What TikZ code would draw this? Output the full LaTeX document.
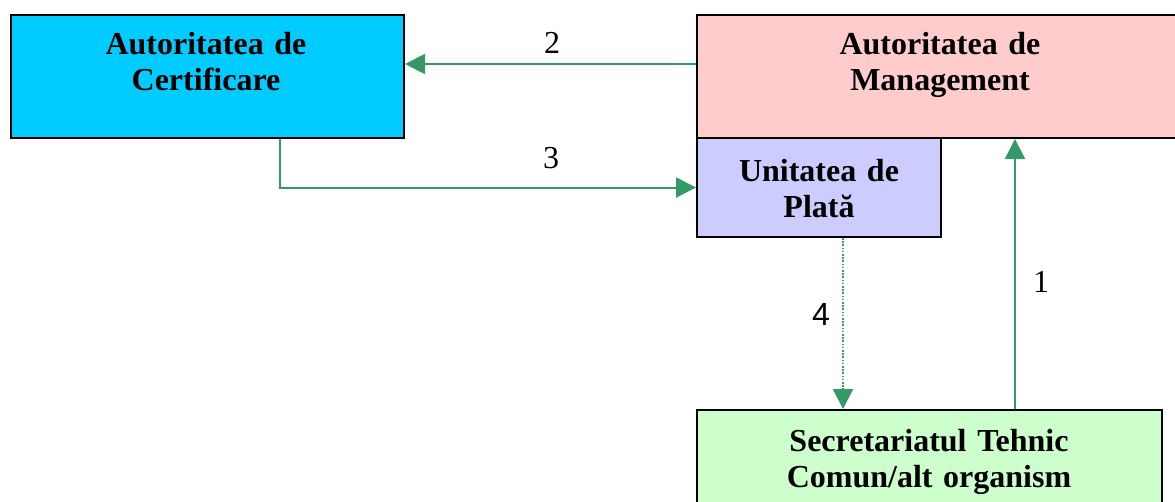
\documentclass[tikz,border=0pt]{standalone}
\usepackage{fontspec}
\setmainfont{Liberation Serif}
\newfontfamily\arialfont{Liberation Sans}
\usetikzlibrary{arrows.meta}
\definecolor{cAC}{RGB}{0,204,255}
\definecolor{cAM}{RGB}{255,204,204}
\definecolor{cUP}{RGB}{204,204,255}
\definecolor{cST}{RGB}{204,255,204}
\definecolor{arrgreen}{RGB}{51,153,102}
\tikzset{
  box/.style={draw=black, line width=2pt, rectangle, anchor=north west, inner sep=0pt},
  boxtext/.style={anchor=base, align=center, inner sep=0pt, font=\fontsize{32}{36}\selectfont\bfseries},
  numlbl/.style={inner sep=0pt, font=\fontsize{32}{36}\selectfont},
  conn/.style={draw=arrgreen, line width=2pt, -{Triangle[length=20pt,width=20pt]}, arrgreen},
}
\begin{document}
\begin{tikzpicture}[x=1pt,y=-1pt]
\clip (0,0) rectangle (1175,501);
\fill[white] (0,0) rectangle (1175,501);
% boxes
\node[box, fill=cAC, minimum width=393pt, minimum height=123pt] (ac) at (10,14) {};
\node[box, fill=cAM, minimum width=500pt, minimum height=123pt] (am) at (696,14) {};
\node[box, fill=cUP, minimum width=244pt, minimum height=99pt] (up) at (696,137) {};
\node[box, fill=cST, minimum width=465pt, minimum height=130pt] (st) at (696,409) {};
% box texts
\node[boxtext, text width=380pt] (acT) at (206,54) {Autoritatea de\\Certificare};
\node[boxtext, text width=380pt] (amT) at (940,54) {Autoritatea de\\Management};
\node[boxtext, text width=240pt] (upT) at (819,181) {Unitatea de\\Plată};
\node[boxtext, text width=450pt] (stT) at (929,451) {Secretariatul Tehnic\\Comun/alt organism};
% connectors
\draw[conn] ([yshift=-50pt]am.north west) -- ([yshift=-50pt]ac.north east);
\draw[conn] ([xshift=270pt]ac.south west) |- (up.west);
\draw[conn, dash pattern=on 1.6pt off 1.6pt] ([xshift=147pt]up.south west) -- ([xshift=147pt]st.north west);
\draw[conn] ([xshift=319pt]st.north west) -- ([xshift=319pt]st.north west |- am.south);
% labels
\node[numlbl] (l2) at (552,43) {2};
\node[numlbl] (l3) at (551,158) {3};
\node[numlbl] (l1) at (1041,282) {1};
\node[numlbl, font=\fontsize{32}{36}\selectfont\arialfont] (l4) at (821,314) {4};
\end{tikzpicture}
\end{document}
